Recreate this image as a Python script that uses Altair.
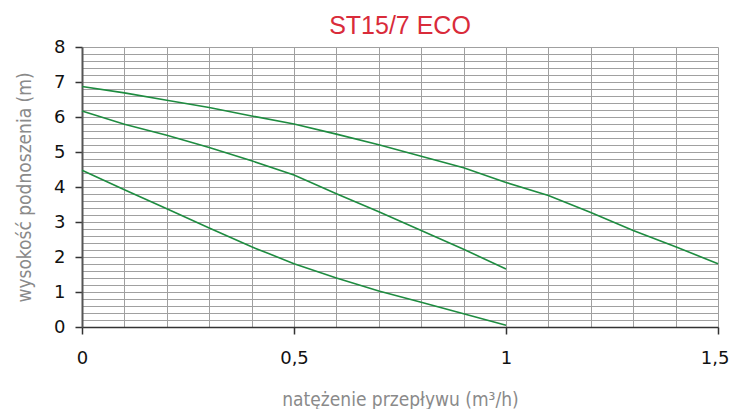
import altair as alt
import pandas as pd

# Flow (m3/h) and head (m)
top_x = [0, 0.1, 0.2, 0.3, 0.4, 0.5, 0.6, 0.7, 0.8, 0.9, 1.0, 1.1, 1.2, 1.3, 1.4, 1.5]
top_y = [6.87, 6.69, 6.48, 6.27, 6.03, 5.80, 5.51, 5.21, 4.88, 4.55, 4.13, 3.76, 3.27, 2.76, 2.29, 1.81]

mid_x = [0, 0.1, 0.2, 0.3, 0.4, 0.5, 0.6, 0.7, 0.8, 0.9, 1.0]
mid_y = [6.17, 5.79, 5.48, 5.13, 4.75, 4.34, 3.81, 3.29, 2.76, 2.22, 1.66]

low_x = [0, 0.1, 0.2, 0.3, 0.4, 0.44, 0.5, 0.6, 0.7, 0.8, 0.9, 1.0]
low_y = [4.48, 3.92, 3.38, 2.83, 2.29, 2.10, 1.81, 1.40, 1.03, 0.71, 0.38, 0.05]

x_grid = [round(i * 0.1, 1) for i in range(16)]
y_grid = [round(i * 0.2, 1) for i in range(41)]

rows = []
for name, xs, ys in [("speed3", top_x, top_y), ("speed2", mid_x, mid_y), ("speed1", low_x, low_y)]:
    for i, (a, b) in enumerate(zip(xs, ys)):
        rows.append({"series": name, "order": i, "q": a, "h": b})
df = pd.DataFrame(rows)

title_font = "DejaVu Sans Condensed, Liberation Sans Narrow, sans-serif"
last_test = "datum.value > 1.45"

x_axis = alt.Axis(
    values=x_grid,
    grid=True,
    gridColor="#a0a0a0",
    gridWidth=1,
    domainColor="#333333",
    domainWidth=1.5,
    tickColor="#333333",
    tickWidth=1.5,
    tickSize=7,
    tickOpacity={"condition": {"test": "abs(datum.value*2 - round(datum.value*2)) < 0.001", "value": 1}, "value": 0},
    labelExpr="abs(datum.value*2 - round(datum.value*2)) < 0.001 ? replace(format(datum.value, '~g'), '.', ',') : ''",
    labelOverlap=False,
    labelFlush=False,
    labelAlign={"condition": {"test": last_test, "value": "right"}, "value": "center"},
    labelOffset={"condition": {"test": last_test, "value": 11}, "value": 0},
    labelFont="DejaVu Sans",
    labelFontSize=18,
    labelColor="#111111",
    labelPadding=15,
    title="natężenie przepływu (m³/h)",
    titleFont=title_font,
    titleFontSize=19,
    titleFontWeight="normal",
    titleColor="#8a8a8a",
    titleBaseline="alphabetic",
    titleY=78,
)

y_axis = alt.Axis(
    values=y_grid,
    grid=True,
    gridColor="#a0a0a0",
    gridWidth=1,
    domainColor="#555555",
    domainWidth=2,
    tickColor="#333333",
    tickWidth=1.5,
    tickSize=7,
    tickOpacity={"condition": {"test": "abs(datum.value - round(datum.value)) < 0.001", "value": 1}, "value": 0},
    labelExpr="abs(datum.value - round(datum.value)) < 0.001 ? format(datum.value, 'd') : ''",
    labelOverlap=False,
    labelFont="DejaVu Sans",
    labelFontSize=18,
    labelColor="#111111",
    labelPadding=10,
    title="wysokość podnoszenia (m)",
    titleFont=title_font,
    titleFontSize=19,
    titleFontWeight="normal",
    titleColor="#8a8a8a",
    titleBaseline="alphabetic",
    titleAngle=270,
    titleX=-52,
    titleY=140,
)

chart = (
    alt.Chart(df)
    .mark_line(color="#1e8c40", strokeWidth=1.6)
    .encode(
        x=alt.X("q:Q", scale=alt.Scale(domain=[0, 1.5], nice=False, zero=False), axis=x_axis),
        y=alt.Y("h:Q", scale=alt.Scale(domain=[0, 8], nice=False), axis=y_axis),
        detail="series:N",
        order="order:Q",
    )
    .properties(
        width=636,
        height=280,
        autosize=alt.AutoSizeParams(type="none"),
        padding={"left": 74, "top": 39, "right": 12, "bottom": 82},
        title=alt.TitleParams(
            "ST15/7 ECO",
            font="Liberation Sans",
            fontSize=25,
            fontWeight="normal",
            color="#d92b3a",
            anchor="middle",
            offset=7,
            dy=8,
        ),
    )
    .configure_view(stroke="transparent")
)

chart.save("out.html", embed_options={"renderer": "svg", "actions": False})
